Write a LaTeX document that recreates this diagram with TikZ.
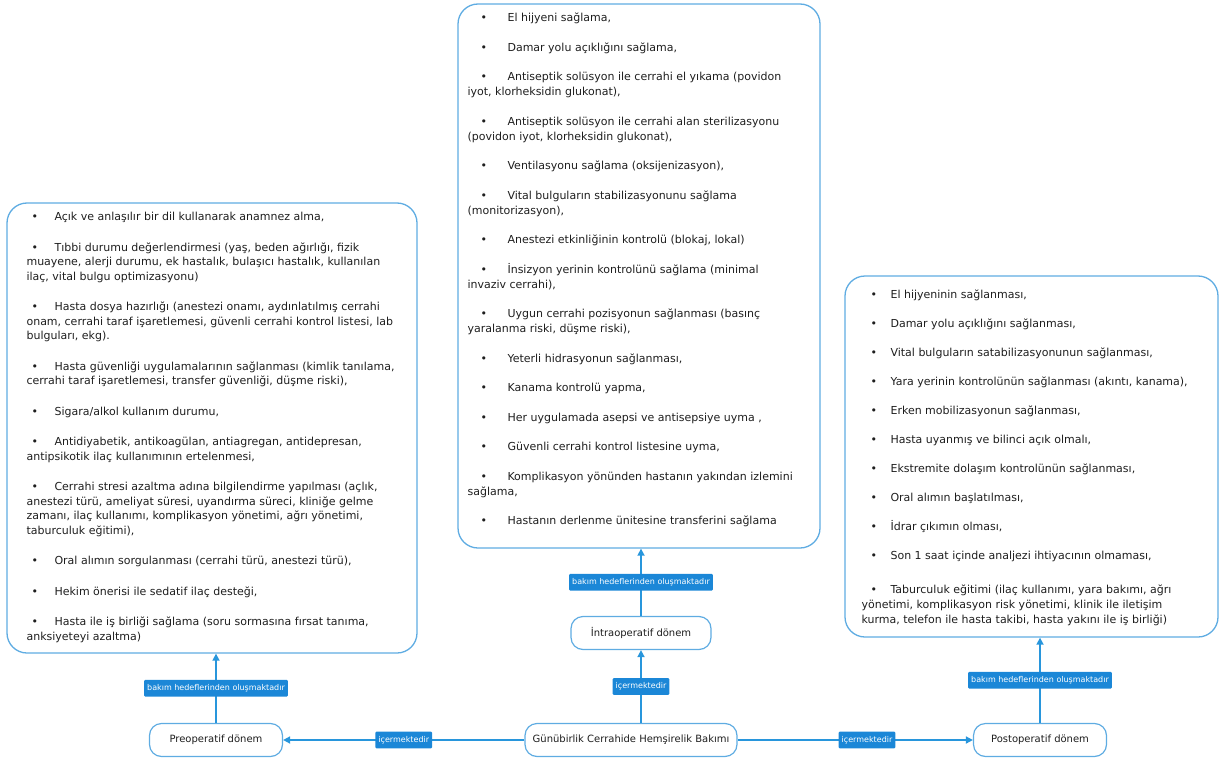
\documentclass[tikz,border=0pt]{standalone}
\usepackage{fontspec}
\setmainfont{DejaVu Sans}
\usepackage{xcolor}
\usetikzlibrary{positioning,arrows.meta}

\definecolor{boxblue}{RGB}{95,172,226}
\definecolor{lineblue}{RGB}{40,150,220}
\definecolor{tagblue}{RGB}{27,135,215}
\definecolor{txtgray}{RGB}{30,30,30}

% bullets for the three lists
\newcommand{\bpre}{\makebox[28pt][l]{\hspace{5pt}\textbullet}}
\newcommand{\bintra}{\makebox[40pt][l]{\hspace{13pt}\textbullet}}
\newcommand{\bpost}{\makebox[29pt][l]{\hspace{9pt}\textbullet}}

\tikzset{
  goalbox/.style={draw=boxblue, line width=1.3pt, rounded corners=20pt, inner sep=0pt},
  goaltext/.style={align=left, inner sep=0pt, text=txtgray},
  phase/.style={draw=boxblue, line width=1.2pt, rounded corners=12pt, minimum height=33pt,
    fill=white, text=txtgray, font=\fontsize{10}{12}\selectfont},
  link/.style={draw=lineblue, line width=1.6pt, -{Triangle[length=7pt,width=7pt]}},
  tag/.style={fill=tagblue, text=white, font=\fontsize{8}{9}\selectfont,
    inner xsep=3pt, inner ysep=4.5pt, rounded corners=1pt}
}

\begin{document}
\begin{tikzpicture}[x=1pt,y=1pt]
    \useasboundingbox (0,0) rectangle (1221,-760);

    % Goal boxes
    \node[goalbox, minimum width=410pt, minimum height=450pt] (pregoals) at (212,-428) {};
    \node[goalbox, minimum width=362pt, minimum height=544pt] (intragoals) at (639,-276) {};
    \node[goalbox, minimum width=373pt, minimum height=361pt] (postgoals) at (1031.5,-456.5) {};

    \node[goaltext, font=\fontsize{11}{14.5}\selectfont, below right=9.6pt and 20pt of pregoals.north west] (pretext) {%
      \bpre Açık ve anlaşılır bir dil kullanarak anamnez alma,\\[16pt]
      \bpre Tıbbi durumu değerlendirmesi (yaş, beden ağırlığı, fizik\\
      muayene, alerji durumu, ek hastalık, bulaşıcı hastalık, kullanılan\\
      ilaç, vital bulgu optimizasyonu)\\[16pt]
      \bpre Hasta dosya hazırlığı (anestezi onamı, aydınlatılmış cerrahi\\
      onam, cerrahi taraf işaretlemesi, güvenli cerrahi kontrol listesi, lab\\
      bulguları, ekg).\\[16pt]
      \bpre Hasta güvenliği uygulamalarının sağlanması (kimlik tanılama,\\
      cerrahi taraf işaretlemesi, transfer güvenliği, düşme riski),\\[16pt]
      \bpre Sigara/alkol kullanım durumu,\\[16pt]
      \bpre Antidiyabetik, antikoagülan, antiagregan, antidepresan,\\
      antipsikotik ilaç kullanımının ertelenmesi,\\[16pt]
      \bpre Cerrahi stresi azaltma adına bilgilendirme yapılması (açlık,\\
      anestezi türü, ameliyat süresi, uyandırma süreci, kliniğe gelme\\
      zamanı, ilaç kullanımı, komplikasyon yönetimi, ağrı yönetimi,\\
      taburculuk eğitimi),\\[16pt]
      \bpre Oral alımın sorgulanması (cerrahi türü, anestezi türü),\\[16pt]
      \bpre Hekim önerisi ile sedatif ilaç desteği,\\[16pt]
      \bpre Hasta ile iş birliği sağlama (soru sormasına fırsat tanıma,\\
      anksiyeteyi azaltma)};

    \node[goaltext, font=\fontsize{11}{15}\selectfont, below right=9.6pt and 10pt of intragoals.north west] (intratext) {%
      \bintra El hijyeni sağlama,\\[14.5pt]
      \bintra Damar yolu açıklığını sağlama,\\[14.5pt]
      \bintra Antiseptik solüsyon ile cerrahi el yıkama (povidon\\
      iyot, klorheksidin glukonat),\\[14.5pt]
      \bintra Antiseptik solüsyon ile cerrahi alan sterilizasyonu\\
      (povidon iyot, klorheksidin glukonat),\\[14.5pt]
      \bintra Ventilasyonu sağlama (oksijenizasyon),\\[14.5pt]
      \bintra Vital bulguların stabilizasyonunu sağlama\\
      (monitorizasyon),\\[14.5pt]
      \bintra Anestezi etkinliğinin kontrolü (blokaj, lokal)\\[14.5pt]
      \bintra İnsizyon yerinin kontrolünü sağlama (minimal\\
      invaziv cerrahi),\\[14.5pt]
      \bintra Uygun cerrahi pozisyonun sağlanması (basınç\\
      yaralanma riski, düşme riski),\\[14.5pt]
      \bintra Yeterli hidrasyonun sağlanması,\\[14.5pt]
      \bintra Kanama kontrolü yapma,\\[14.5pt]
      \bintra Her uygulamada asepsi ve antisepsiye uyma ,\\[14.5pt]
      \bintra Güvenli cerrahi kontrol listesine uyma,\\[14.5pt]
      \bintra Komplikasyon yönünden hastanın yakından izlemini\\
      sağlama,\\[14.5pt]
      \bintra Hastanın derlenme ünitesine transferini sağlama};

    \node[goaltext, font=\fontsize{11}{15}\selectfont, below right=14.6pt and 17pt of postgoals.north west] (posttext) {%
      \bpost El hijyeninin sağlanması,\\[14pt]
      \bpost Damar yolu açıklığını sağlanması,\\[14pt]
      \bpost Vital bulguların satabilizasyonunun sağlanması,\\[14pt]
      \bpost Yara yerinin kontrolünün sağlanması (akıntı, kanama),\\[14pt]
      \bpost Erken mobilizasyonun sağlanması,\\[14pt]
      \bpost Hasta uyanmış ve bilinci açık olmalı,\\[14pt]
      \bpost Ekstremite dolaşım kontrolünün sağlanması,\\[14pt]
      \bpost Oral alımın başlatılması,\\[14pt]
      \bpost İdrar çıkımın olması,\\[14pt]
      \bpost Son 1 saat içinde analjezi ihtiyacının olmaması,\\[19pt]
      \bpost Taburculuk eğitimi (ilaç kullanımı, yara bakımı, ağrı\\
      yönetimi, komplikasyon risk yönetimi, klinik ile iletişim\\
      kurma, telefon ile hasta takibi, hasta yakını ile iş birliği)};

    % Phases
    \node[phase, minimum width=133pt] (preop) at (216,-740) {Preoperatif dönem};
    \node[phase, minimum width=212pt] (main) at (631,-740) {Günübirlik Cerrahide Hemşirelik Bakımı};
    \node[phase, minimum width=140pt] (intra) at (641,-633) {İntraoperatif dönem};
    \node[phase, minimum width=133pt] (post) at (1040,-740) {Postoperatif dönem};

    % Connectors
    \draw[link] (main) -- node[tag] (t1) {içermektedir} (preop);
    \draw[link] (main) -- node[tag, pos=0.55] (t2) {içermektedir} (post);
    \draw[link] (main.north -| intra) -- node[tag] (t3) {içermektedir} (intra);
    \draw[link] (intra) -- node[tag] (t4) {bakım hedeflerinden oluşmaktadır} (intra |- intragoals.south);
    \draw[link] (preop) -- node[tag] (t5) {bakım hedeflerinden oluşmaktadır} (preop |- pregoals.south);
    \draw[link] (post) -- node[tag] (t6) {bakım hedeflerinden oluşmaktadır} (post |- postgoals.south);
\end{tikzpicture}
\end{document}
